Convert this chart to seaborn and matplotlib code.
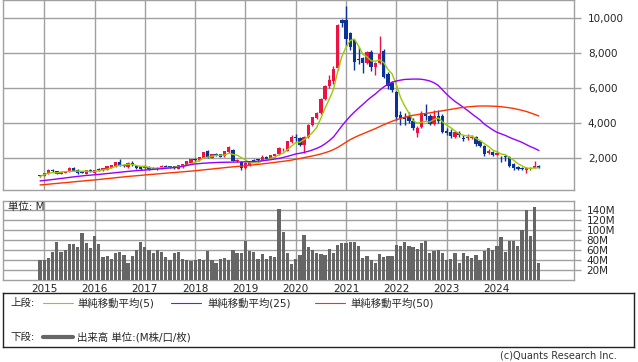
import numpy as np
import pandas as pd
import seaborn as sns
import matplotlib.pyplot as plt

# monthly bars, Dec 2014 .. Nov 2024
opens = [1020, 970, 1120, 1320, 1250, 1090, 1160, 1220, 1420, 1300, 1200, 1100,
         1320, 1120, 1380, 1290, 1340, 1440, 1520, 1750, 1600, 1480, 1700, 1560,
         1520, 1410, 1480, 1440, 1440, 1410, 1560, 1530, 1520, 1390, 1470, 1620,
         1720, 1970, 1870, 2000, 2380, 2020, 2240, 2200, 2090, 2330, 2480, 1840,
         1790, 1400, 1600, 1890, 1930, 1890, 2050, 1970, 2110, 2200, 2430, 2420,
         2900, 3220, 3150, 2720, 3180, 3890, 4270, 4550, 5350, 6110, 6400, 7120,
         9900, 9880, 9120, 8740, 7650, 7700, 7410, 8070, 7220, 7410, 8130, 6800,
         6310, 5790, 4480, 4350, 4370, 4100, 3430, 3750, 4500, 4400, 3940, 4400,
         4400, 3560, 3500, 3220, 3400, 3120, 3120, 3140, 3220, 2960, 2690, 2270,
         2350, 2180, 2070, 2070, 2070, 1660, 1510, 1450, 1320, 1370, 1430, 1540]
highs = [1050, 1170, 1350, 1370, 1280, 1220, 1260, 1460, 1510, 1360, 1250, 1340,
         1360, 1340, 1420, 1450, 1540, 1600, 1770, 1930, 1650, 1760, 1830, 1600,
         1560, 1600, 1520, 1470, 1460, 1600, 1600, 1570, 1560, 1610, 1660, 1840,
         1950, 2000, 2080, 2360, 2430, 2230, 2300, 2240, 2420, 2680, 2530, 1950,
         1830, 1740, 1820, 1940, 1960, 2150, 2090, 2170, 2230, 2620, 2560, 2980,
         3290, 3370, 3200, 3230, 3920, 4350, 4650, 5400, 6200, 6750, 7250, 9650,
         9950, 10690, 9200, 8800, 8340, 7800, 8100, 8150, 7500, 8970, 8240, 6900,
         6380, 5850, 4700, 4550, 4600, 4300, 3800, 4700, 5100, 4500, 4750, 4750,
         4500, 3700, 3640, 3560, 3520, 3290, 3380, 3320, 3280, 3000, 2750, 2510,
         2420, 2400, 2100, 2170, 2120, 1700, 1560, 1480, 1460, 1480, 1810, 1580]
lows = [930, 950, 1090, 1190, 1080, 1060, 1130, 1200, 1240, 1080, 1130, 1080,
        1200, 1060, 1260, 1270, 1310, 1400, 1480, 1560, 1480, 1440, 1550, 1380,
        1330, 1380, 1340, 1350, 1340, 1380, 1480, 1450, 1390, 1360, 1440, 1600,
        1700, 1820, 1850, 1980, 2000, 1990, 2100, 2030, 2060, 2300, 1800, 1780,
        1300, 1370, 1570, 1780, 1840, 1870, 1940, 1950, 2080, 2170, 2380, 2380,
        2880, 2960, 2680, 2270, 3150, 3850, 4230, 4500, 5300, 6000, 6250, 7050,
        9500, 8400, 8150, 7030, 7400, 6840, 7350, 7000, 6740, 7380, 6600, 5950,
        5800, 4150, 3880, 3900, 4000, 3600, 3200, 3700, 4170, 3900, 3900, 4000,
        3450, 3300, 3140, 3130, 3220, 2960, 3030, 3080, 2700, 2600, 2100, 2210,
        2100, 2150, 1770, 1830, 1500, 1300, 1300, 1320, 1130, 1340, 1400, 1400]
closes = [950, 1140, 1320, 1230, 1110, 1190, 1240, 1420, 1270, 1120, 1160, 1310,
          1240, 1320, 1290, 1430, 1520, 1580, 1750, 1600, 1520, 1730, 1580, 1410,
          1370, 1560, 1370, 1380, 1370, 1560, 1510, 1480, 1430, 1580, 1630, 1810,
          1920, 1870, 2050, 2330, 2050, 2200, 2130, 2060, 2380, 2610, 1850, 1900,
          1400, 1720, 1790, 1800, 1870, 2050, 1970, 2150, 2200, 2560, 2480, 2950,
          3220, 3150, 2720, 3200, 3890, 4320, 4590, 5350, 6110, 6450, 7100, 9600,
          9720, 8800, 8360, 7500, 7600, 7410, 8070, 7180, 7410, 7950, 6650, 6110,
          5890, 4360, 4300, 4200, 4100, 3700, 3700, 4550, 4400, 3940, 4400, 4130,
          3510, 3400, 3230, 3470, 3330, 3060, 3200, 3220, 2780, 2690, 2210, 2400,
          2180, 2310, 2030, 2040, 1560, 1410, 1370, 1370, 1430, 1430, 1540, 1430]

# moving averages (they include history before Dec 2014)
ma25 = [690, 715, 740, 770, 800, 830, 860, 890, 920, 950, 975, 1000, 1020,
        1040, 1060, 1085, 1110, 1135, 1160, 1185, 1210, 1235, 1255, 1275, 1295,
        1310, 1330, 1350, 1370, 1390, 1410, 1430, 1450, 1475, 1520, 1570, 1620,
        1660, 1680, 1700, 1715, 1730, 1740, 1750, 1755, 1760, 1765, 1770, 1775,
        1780, 1790, 1800, 1820, 1840, 1870, 1900, 1940, 1980, 2030, 2090, 2160,
        2230, 2270, 2320, 2380, 2460, 2550, 2660, 2810, 2990, 3200, 3510, 3830,
        4120, 4390, 4630, 4850, 5060, 5280, 5480, 5660, 5870, 6060, 6220, 6330,
        6400, 6450, 6490, 6500, 6510, 6510, 6500, 6460, 6400, 6300, 6150, 5900,
        5650, 5430, 5230, 5070, 4890, 4720, 4530, 4350, 4170, 3940, 3770, 3610,
        3470, 3380, 3290, 3180, 3080, 2990, 2890, 2770, 2650, 2550, 2430]
ma50 = [460, 480, 500, 525, 545, 570, 590, 610, 635, 660, 680, 705, 725,
        745, 770, 795, 820, 845, 870, 895, 920, 945, 965, 985, 1005,
        1030, 1050, 1070, 1090, 1110, 1130, 1150, 1170, 1190, 1210, 1230, 1250,
        1270, 1295, 1320, 1345, 1370, 1395, 1420, 1445, 1470, 1495, 1515, 1535,
        1560, 1585, 1610, 1635, 1660, 1690, 1720, 1750, 1780, 1810, 1840, 1880,
        1925, 1970, 2020, 2070, 2120, 2170, 2230, 2300, 2380, 2480, 2600, 2750,
        2900, 3050, 3170, 3280, 3380, 3480, 3580, 3680, 3790, 3900, 4000, 4100,
        4180, 4260, 4330, 4390, 4440, 4480, 4510, 4540, 4580, 4620, 4660, 4700,
        4740, 4780, 4820, 4860, 4890, 4920, 4940, 4960, 4970, 4970, 4970, 4960,
        4950, 4930, 4900, 4870, 4830, 4780, 4720, 4660, 4580, 4490, 4400]

# volume in millions
volume = [41, 40, 45, 56, 76, 56, 60, 72, 72, 66, 94, 74,
          64, 88, 72, 46, 48, 42, 54, 56, 50, 34, 48, 60,
          76, 66, 60, 54, 60, 56, 46, 40, 54, 56, 42, 40,
          38, 40, 42, 40, 58, 40, 34, 42, 44, 40, 60, 54,
          54, 79, 58, 56, 42, 52, 42, 48, 46, 142, 96, 55,
          33, 42, 50, 90, 66, 60, 54, 52, 50, 62, 54, 70,
          74, 74, 76, 76, 68, 44, 48, 40, 34, 52, 46, 48,
          48, 70, 68, 76, 68, 66, 62, 74, 78, 54, 58, 60,
          54, 40, 42, 54, 34, 54, 48, 44, 50, 40, 58, 64,
          60, 68, 86, 56, 78, 78, 68, 100, 140, 88, 146, 34]

years = ["2015", "2016", "2017", "2018", "2019", "2020", "2021", "2022", "2023", "2024"]

df = pd.DataFrame({"open": opens, "high": highs, "low": lows, "close": closes,
                   "ma25": ma25, "ma50": ma50, "vol": volume})
df["i"] = np.arange(len(df))
df["ma5"] = df["close"].rolling(5, min_periods=1).mean()

sns.set_style("white")
plt.rcParams["font.family"] = ["DejaVu Sans", "Noto Sans CJK JP"]

RED = "#ee1144"
BLUE = "#0a3399"
GRID = "#a0a0a0"

fig = plt.figure(figsize=(6.38, 3.62), dpi=100)
W, H = 638, 362
ax = fig.add_axes([3 / W, 1 - 190 / H, 571 / W, 190 / H])
axv = fig.add_axes([3 / W, 1 - 280 / H, 571 / W, 79 / H])

year_pos = [1 + 12 * k for k in range(len(years))]
xlim = (-8.85, 127.4)

# price panel
up = df["close"] >= df["open"]
cols = np.where(up, RED, BLUE)
body = np.maximum((df["close"] - df["open"]).abs(), 50)
bot = np.minimum(df["close"], df["open"])
ax.vlines(df["i"], df["low"], df["high"], colors=cols, lw=1, zorder=3)
ax.bar(df["i"], body, bottom=bot, width=0.8, color=cols, lw=0, zorder=3)
sns.lineplot(data=df, x="i", y="ma5", ax=ax, color="#99cc00", lw=1, zorder=4)
sns.lineplot(data=df, x="i", y="ma25", ax=ax, color="#9900ff", lw=1, zorder=4)
sns.lineplot(data=df, x="i", y="ma50", ax=ax, color="#ff3300", lw=1, zorder=4)
ax.set_xlim(xlim)
ax.set_ylim(170, 11030)
ax.set_yticks([2000, 4000, 6000, 8000, 10000])
ax.set_yticklabels(["2,000", "4,000", "6,000", "8,000", "10,000"])
ax.set_xticks(year_pos)
ax.set_xticklabels([])

# volume panel
sns.barplot(data=df, x="i", y="vol", ax=axv, native_scale=True, color="#666666",
            width=0.78, saturation=1, linewidth=0, zorder=3)
axv.set_xlim(xlim)
axv.set_ylim(0, 158)
axv.set_yticks([20, 40, 60, 80, 100, 120, 140])
axv.set_yticklabels([f"{v}M" for v in [20, 40, 60, 80, 100, 120, 140]])
axv.set_xticks(year_pos)
axv.set_xticklabels(years)
axv.text(0.008, 0.93, "単位: M", transform=axv.transAxes, fontsize=7.5,
         va="center", ha="left", zorder=5)

for a in (ax, axv):
    a.set_xlabel("")
    a.set_ylabel("")
    a.grid(True, color=GRID, lw=1)
    a.set_axisbelow(True)
    a.yaxis.tick_right()
    a.tick_params(axis="y", length=5, width=1, color=GRID, pad=5, labelsize=7.5)
    a.tick_params(axis="x", length=0, pad=3, labelsize=7.5)
    for s in a.spines.values():
        s.set_color(GRID)
        s.set_linewidth(1)
axv.tick_params(axis="y", pad=4, labelsize=7.5)

# legend box
axl = fig.add_axes([3 / W, 1 - 347 / H, 631 / W, 54 / H])
axl.set_xlim(0, 631)
axl.set_ylim(54, 0)
axl.set_xticks([])
axl.set_yticks([])
for s in axl.spines.values():
    s.set_color("#222222")
    s.set_linewidth(1)
r1, r2 = 10, 44
fs = 7.5
axl.text(7, r1, "上段:", fontsize=fs, va="center")
axl.plot([40, 70], [r1, r1], color="#99cc00", lw=0.8)
axl.text(74, r1, "単純移動平均(5)", fontsize=fs, va="center")
axl.plot([168, 198], [r1, r1], color="#9900ff", lw=0.8)
axl.text(204, r1, "単純移動平均(25)", fontsize=fs, va="center")
axl.plot([312, 342], [r1, r1], color="#ff3300", lw=0.8)
axl.text(347, r1, "単純移動平均(50)", fontsize=fs, va="center")
axl.text(7, r2, "下段:", fontsize=fs, va="center")
axl.plot([40, 70], [r2, r2], color="#666666", lw=3)
axl.text(74, r2, "出来高 単位:(M株/口/枚)", fontsize=fs, va="center")

fig.text(617 / W, 1 - 356 / H, "(c)Quants Research Inc.", fontsize=7, ha="right",
         va="center", color="#333333")

fig.savefig("out.png", dpi=100)
